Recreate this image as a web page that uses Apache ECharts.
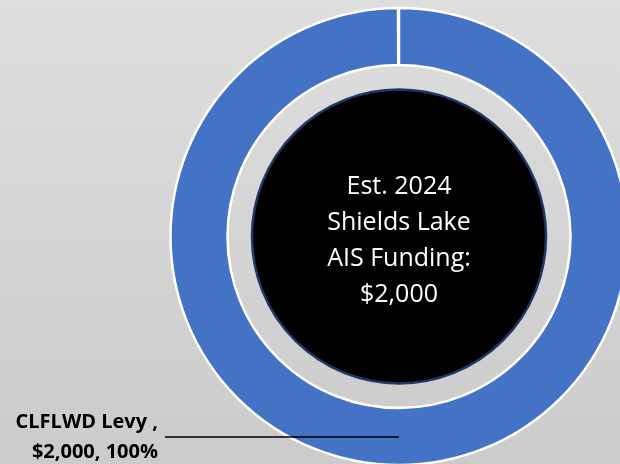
<!DOCTYPE html>
<html>
<head>
<meta charset="utf-8">
<script src="https://cdn.jsdelivr.net/npm/echarts@6/dist/echarts.min.js"></script>
<style>
html,body{margin:0;padding:0;}
#c{width:620px;height:464px;}
</style>
</head>
<body>
<div id="c"></div>
<script>
const categories = ['CLFLWD Levy'];
const values = [2000];
const centerTitle = ['Est. 2024', 'Shields Lake', 'AIS Funding:'];

const total = values.reduce((a, b) => a + b, 0);
const fmtMoney = v => '$' + v.toLocaleString('en-US');
const pieData = categories.map((c, i) => ({name: c, value: values[i]}));

const CX = 399, CY = 236.5;
const chart = echarts.init(document.getElementById('c'), null, {renderer: 'canvas'});
chart.setOption({
  backgroundColor: {
    type: 'linear', x: 0, y: 0, x2: 0, y2: 1,
    colorStops: [{offset: 0, color: '#dedede'}, {offset: 1, color: '#cbcbcb'}]
  },
  animation: false,
  series: [
    {
      type: 'pie',
      z: 1,
      center: [CX, CY],
      radius: [0, 147],
      silent: true,
      data: [{name: centerTitle.join(' '), value: total}],
      itemStyle: {color: '#000', borderColor: '#1f3864', borderWidth: 2.5},
      label: {
        show: true, position: 'center',
        formatter: p => centerTitle.join('\n') + '\n' + fmtMoney(p.value),
        color: '#fff', fontFamily: 'Open Sans', fontSize: 25, lineHeight: 36,
        offset: [0, 4]
      },
      labelLine: {show: false}
    },
    {
      type: 'pie',
      z: 2,
      center: [CX, CY],
      radius: [171.5, 228.5],
      startAngle: 90,
      endAngle: -269.75,
      clockwise: true,
      silent: true,
      data: pieData,
      itemStyle: {color: '#4472c4', borderColor: '#ffffff', borderWidth: 2.5},
      label: {show: false},
      labelLine: {show: false}
    },
    {
      type: 'pie',
      z: 5,
      center: [CX, CY],
      radius: [171.5, 228.5],
      startAngle: 90,
      endAngle: -269.75,
      clockwise: true,
      silent: true,
      data: pieData,
      itemStyle: {color: 'rgba(0,0,0,0)', borderWidth: 0},
      label: {
        show: true,
        formatter: p => p.name + ' ,\n' + fmtMoney(p.value) + ', ' + Math.round(p.percent) + '%',
        color: '#000', fontFamily: 'Open Sans', fontWeight: 'bold', fontSize: 20,
        lineHeight: 30, align: 'right'
      },
      labelLine: {show: true, showAbove: true, lineStyle: {color: '#000', width: 1.5}},
      labelLayout: () => ({
        x: 158, y: 437, align: 'right', verticalAlign: 'middle',
        labelLinePoints: [[CX, 437], [CX, 437], [165, 437]]
      })
    }
  ]
});
</script>
</body>
</html>
